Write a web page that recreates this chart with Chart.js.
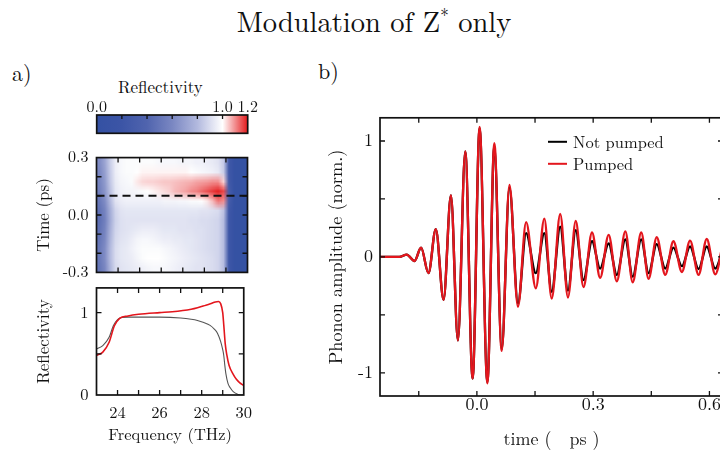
<!DOCTYPE html>
<html lang="en"><head><meta charset="utf-8">
<script src="https://cdn.jsdelivr.net/npm/chart.js@4.4.0/dist/chart.umd.min.js"></script>
<style>
html,body{margin:0;padding:0;background:#fff;width:720px;height:453px;overflow:hidden;position:relative;}
canvas{position:absolute;}
.t{position:absolute;font-family:"Latin Modern Roman","Liberation Serif",serif;color:#111;white-space:nowrap;line-height:1;}
</style></head><body>
<div class="t" style="left:0;width:748px;text-align:center;top:6px;font-size:28.5px;">Modulation of Z<span style="font-size:17px;position:relative;top:-11px;">*</span> only</div>
<div class="t" style="left:12px;top:61px;font-size:22px;">a)</div>
<div class="t" style="left:318px;top:59px;font-size:22px;">b)</div>
<div class="t" style="left:118px;top:78px;font-size:17px;">Reflectivity</div>
<canvas id="cbar" width="260" height="60" style="left:0;top:75px"></canvas>
<canvas id="heat" width="260" height="150" style="left:0;top:140px"></canvas>
<canvas id="low" width="260" height="183" style="left:0;top:270px"></canvas>
<canvas id="phon" width="425" height="353" style="left:300px;top:100px"></canvas>
<script>
// ---------------- DATA ----------------
// Panel b: phonon amplitude extrema (time in ps)
const phononTime = [-0.25,-0.2,-0.181,-0.161,-0.144,-0.125,-0.106,-0.086,-0.067,-0.049,-0.030,-0.011,0.007,0.027,0.045,0.064,0.084,0.106,0.127,0.152,0.174,0.193,0.215,0.235,0.255,0.275,0.297,0.318,0.34,0.361,0.383,0.402,0.424,0.443,0.464,0.486,0.507,0.529,0.55,0.572,0.593,0.615,0.636];
const phononPumped = [0,0,0.02,-0.035,0.08,-0.14,0.24,-0.37,0.53,-0.72,0.91,-1.05,1.12,-1.09,0.98,-0.81,0.62,-0.43,0.30,-0.27,0.33,-0.36,0.37,-0.35,0.31,-0.26,0.21,-0.18,0.19,-0.21,0.22,-0.22,0.21,-0.19,0.17,-0.155,0.135,-0.13,0.14,-0.155,0.155,-0.15,0.14];
const phononNotPumped = [0,0,0.02,-0.035,0.08,-0.14,0.24,-0.37,0.53,-0.72,0.91,-1.05,1.11,-1.08,0.96,-0.80,0.60,-0.40,0.205,-0.14,0.205,-0.30,0.26,-0.29,0.23,-0.20,0.135,-0.10,0.115,-0.155,0.15,-0.17,0.15,-0.14,0.11,-0.10,0.08,-0.08,0.09,-0.105,0.09,-0.10,0.08];
const seriesLabels = ['Not pumped','Pumped'];
const phononXLabels = [0.0, 0.3, 0.6];
const phononYLabels = [-1, 0, 1];

// Panel a (bottom): reflectivity spectra
const reflFreqNot = [23.0,23.3,23.6,23.8,24.0,24.2,24.5,25,26,27,27.5,27.8,28.1,28.4,28.6,28.75,28.9,29.0,29.05,29.1,29.15,29.25,29.35,29.5,29.7,29.85,30];
const reflNot = [0.557,0.6,0.7,0.84,0.915,0.94,0.945,0.945,0.945,0.935,0.92,0.905,0.88,0.845,0.8,0.75,0.65,0.55,0.48,0.36,0.26,0.14,0.09,0.04,0.01,0.0,0.0];
const reflFreqPump = [23.0,23.3,23.6,23.85,24.1,24.5,25.0,26.0,26.6,27.5,27.8,28.2,28.45,28.65,28.8,28.9,29.0,29.05,29.12,29.2,29.3,29.5,29.65,29.8,30];
const reflPump = [0.48,0.52,0.64,0.84,0.93,0.96,0.98,1.0,1.01,1.04,1.058,1.09,1.11,1.13,1.135,1.11,1.0,0.85,0.62,0.48,0.36,0.25,0.19,0.15,0.115];
const freqLabels = [24, 26, 28, 30];

// Panel a (top): time-resolved reflectivity map (cell centres)
const heatFreq = [23.125,23.375,23.625,23.875,24.125,24.375,24.625,24.875,25.125,25.375,25.625,25.875,26.125,26.375,26.625,26.875,27.125,27.375,27.625,27.875,28.125,28.375,28.625,28.875,29.125,29.375,29.625,29.875];
const heatTime = [0.275,0.225,0.175,0.125,0.075,0.025,-0.025,-0.075,-0.125,-0.175,-0.225,-0.275];
const heatRefl = [
 [0.62,0.72,0.86,0.95,0.98,0.99,0.99,0.99,0.99,0.99,0.99,0.98,0.98,0.98,0.98,0.97,0.97,0.97,0.96,0.96,0.95,0.94,0.92,0.85,0.24,0.04,0.03,0.03],
 [0.60,0.70,0.85,0.95,0.98,0.99,0.99,1.00,1.01,1.01,1.01,1.01,1.01,1.01,1.01,1.01,1.01,1.00,0.99,0.98,0.97,0.96,0.94,0.86,0.24,0.04,0.03,0.03],
 [0.58,0.68,0.84,0.94,0.97,0.98,0.99,1.02,1.035,1.04,1.04,1.045,1.05,1.05,1.055,1.06,1.065,1.07,1.08,1.085,1.09,1.10,1.10,1.04,0.26,0.04,0.03,0.03],
 [0.56,0.66,0.82,0.93,0.96,0.97,0.97,0.98,0.99,1.00,1.01,1.02,1.03,1.04,1.06,1.07,1.08,1.10,1.11,1.13,1.15,1.17,1.19,1.16,0.30,0.04,0.03,0.03],
 [0.52,0.62,0.80,0.92,0.95,0.96,0.96,0.96,0.96,0.96,0.96,0.96,0.97,0.97,0.97,0.98,0.98,0.99,0.99,1.00,1.02,1.06,1.12,1.10,0.30,0.04,0.03,0.03],
 [0.48,0.58,0.75,0.88,0.92,0.93,0.93,0.93,0.93,0.93,0.93,0.93,0.93,0.93,0.93,0.93,0.93,0.93,0.93,0.92,0.92,0.91,0.90,0.83,0.24,0.04,0.03,0.03],
 [0.46,0.56,0.74,0.87,0.91,0.92,0.92,0.92,0.92,0.92,0.92,0.92,0.92,0.92,0.92,0.92,0.92,0.91,0.91,0.90,0.90,0.89,0.88,0.81,0.22,0.04,0.03,0.03],
 [0.48,0.58,0.76,0.88,0.91,0.92,0.93,0.94,0.95,0.95,0.95,0.94,0.93,0.93,0.93,0.92,0.92,0.92,0.91,0.91,0.90,0.89,0.88,0.81,0.22,0.04,0.03,0.03],
 [0.50,0.60,0.78,0.89,0.92,0.93,0.95,0.97,0.98,0.98,0.97,0.96,0.95,0.95,0.94,0.94,0.93,0.93,0.92,0.91,0.90,0.89,0.88,0.81,0.22,0.04,0.03,0.03],
 [0.52,0.62,0.80,0.90,0.93,0.94,0.96,0.98,0.99,0.99,0.99,0.99,0.98,0.97,0.96,0.95,0.94,0.93,0.92,0.91,0.90,0.89,0.88,0.81,0.22,0.04,0.03,0.03],
 [0.52,0.62,0.80,0.90,0.93,0.94,0.95,0.97,0.99,1.00,1.00,1.00,0.99,0.98,0.97,0.96,0.95,0.94,0.93,0.92,0.91,0.90,0.88,0.81,0.22,0.04,0.03,0.03],
 [0.50,0.60,0.78,0.89,0.92,0.93,0.94,0.95,0.96,0.97,0.98,0.98,0.98,0.97,0.96,0.95,0.94,0.93,0.92,0.92,0.91,0.90,0.88,0.81,0.22,0.04,0.03,0.03]
];
const probeTime = 0.1;            // dashed line in the map
const timeLabels = [-0.3, 0.0, 0.3];
const cbarLabels = [0.0, 1.0, 1.2];

// ---------------- STYLE ----------------
const SERIF = "'Latin Modern Roman','Liberation Serif',serif";
const RED = '#e3161d';
const TXT = '#111';
const CMAP = [[0,[52,81,163]],[0.2,[60,85,166]],[0.4,[80,100,174]],[0.6,[122,135,194]],[0.8,[178,185,222]],[0.9,[217,220,239]],[1.0,[255,255,255]],[1.2,[228,26,28]]];
function cmap(v){
  if (v <= CMAP[0][0]) return CMAP[0][1];
  for (let i=1;i<CMAP.length;i++){
    if (v <= CMAP[i][0]){
      const [a,ca]=CMAP[i-1],[b,cb]=CMAP[i]; const f=(v-a)/(b-a);
      return ca.map((c,k)=>Math.round(c+(cb[k]-c)*f));
    }
  }
  return CMAP[CMAP.length-1][1];
}
const near = (v, list) => list.some(l => Math.abs(v-l) < 1e-6);

const frameTicks = {
  id:'frameTicks',
  afterDatasetsDraw(chart, args, o){
    const {ctx, chartArea:a} = chart;
    const xs = chart.scales.x, ys = chart.scales.y;
    const len = o.len || 5, sides = o.sides || 'tblr';
    ctx.save();
    ctx.strokeStyle = '#111'; ctx.lineWidth = 1.3;
    ctx.beginPath();
    if (xs && xs.ticks) xs.ticks.forEach(t => {
      const p = xs.getPixelForValue(t.value);
      if (p < a.left+1 || p > a.right-1) return;
      if (sides.includes('b')) { ctx.moveTo(p, a.bottom); ctx.lineTo(p, a.bottom-len); }
      if (sides.includes('t')) { ctx.moveTo(p, a.top); ctx.lineTo(p, a.top+len); }
    });
    if (ys && ys.ticks && (sides.includes('l')||sides.includes('r'))) ys.ticks.forEach(t => {
      const p = ys.getPixelForValue(t.value);
      if (p < a.top+1 || p > a.bottom-1) return;
      if (sides.includes('l')) { ctx.moveTo(a.left, p); ctx.lineTo(a.left+len, p); }
      if (sides.includes('r')) { ctx.moveTo(a.right, p); ctx.lineTo(a.right-len, p); }
    });
    ctx.stroke();
    ctx.lineWidth = 1.7;
    ctx.strokeRect(a.left, a.top, a.right-a.left, a.bottom-a.top);
    ctx.restore();
  }
};

const heatPlugin = {
  id:'heatmap',
  beforeDatasetsDraw(chart){
    const {ctx, scales:{x,y}} = chart;
    const nx = heatFreq.length, ny = heatTime.length;
    const off = document.createElement('canvas'); off.width = nx; off.height = ny;
    const octx = off.getContext('2d'); const img = octx.createImageData(nx, ny);
    for (let j=0;j<ny;j++) for (let i=0;i<nx;i++){
      const c = cmap(heatRefl[j][i]); const k = (j*nx+i)*4;
      img.data[k]=c[0]; img.data[k+1]=c[1]; img.data[k+2]=c[2]; img.data[k+3]=255;
    }
    octx.putImageData(img,0,0);
    const df = (heatFreq[nx-1]-heatFreq[0])/(nx-1), dt = (heatTime[0]-heatTime[ny-1])/(ny-1);
    const x0 = x.getPixelForValue(heatFreq[0]-df/2), x1 = x.getPixelForValue(heatFreq[nx-1]+df/2);
    const y0 = y.getPixelForValue(heatTime[0]+dt/2), y1 = y.getPixelForValue(heatTime[ny-1]-dt/2);
    ctx.save(); ctx.imageSmoothingEnabled = true;
    ctx.drawImage(off, x0, y0, x1-x0, y1-y0);
    ctx.restore();
  }
};

const cbarPlugin = {
  id:'cbar',
  beforeDatasetsDraw(chart){
    const {ctx, chartArea:a, scales:{x}} = chart;
    const g = ctx.createLinearGradient(x.getPixelForValue(x.min),0,x.getPixelForValue(x.max),0);
    CMAP.forEach(([v,c]) => g.addColorStop((v-x.min)/(x.max-x.min), `rgb(${c[0]},${c[1]},${c[2]})`));
    ctx.save(); ctx.fillStyle = g; ctx.fillRect(a.left,a.top,a.right-a.left,a.bottom-a.top); ctx.restore();
  }
};

const inLegend = {
  id:'inLegend',
  afterDatasetsDraw(chart, args, o){
    const {ctx, chartArea:a} = chart;
    ctx.save(); ctx.font = `${o.size}px ${SERIF}`; ctx.textBaseline = 'middle';
    o.items.forEach((it,i) => {
      const y = a.top + o.y + i*o.gap;
      ctx.strokeStyle = it.color; ctx.lineWidth = 2;
      ctx.beginPath(); ctx.moveTo(a.left+o.x, y); ctx.lineTo(a.left+o.x+o.len, y); ctx.stroke();
      ctx.fillStyle = TXT; ctx.fillText(it.text, a.left+o.x+o.len+6, y+1);
    });
    ctx.restore();
  }
};

const base = {responsive:false, animation:false, devicePixelRatio:1, events:[],
  plugins:{legend:{display:false}, tooltip:{enabled:false}}};
const font = s => ({family:SERIF, size:s});
const noGrid = {grid:{display:false, drawTicks:false}, border:{display:false}};

// ---- colour bar ----
new Chart(document.getElementById('cbar'), {
  type:'line', data:{datasets:[{data:[]}]},
  options:{...base, layout:{padding:{left:96.7, right:12.3, top:0, bottom:1.7}},
    plugins:{...base.plugins, frameTicks:{sides:'t', len:4}},
    scales:{
      x:{type:'linear', position:'top', min:0, max:1.2, ...noGrid,
         afterFit(s){ s.height = 40; },
         ticks:{stepSize:0.2, autoSkip:false, maxRotation:0, padding:-2, font:font(16), color:TXT,
           callback:v => near(v, cbarLabels) ? v.toFixed(1) : ''}},
      y:{display:false, min:0, max:1}
    }},
  plugins:[cbarPlugin, frameTicks]
});

// ---- time-resolved map ----
new Chart(document.getElementById('heat'), {
  type:'line',
  data:{datasets:[{data:[{x:heatFreq[0]-0.125,y:probeTime},{x:heatFreq[heatFreq.length-1]+0.125,y:probeTime}],
    borderColor:'#111', borderWidth:2, borderDash:[8,5], pointRadius:0}]},
  options:{...base, layout:{padding:{left:0, right:12.5, top:14, bottom:0}},
    plugins:{...base.plugins, frameTicks:{sides:'tblr', len:5}},
    scales:{
      x:{type:'linear', min:23, max:30, ...noGrid, afterFit(s){ s.height = 8.3; },
         ticks:{display:false, stepSize:1}},
      y:{min:-0.3, max:0.3, ...noGrid, afterFit(s){ s.width = 96.5; },
         ticks:{stepSize:0.1, autoSkip:false, padding:8, font:font(16), color:TXT,
           callback:v => near(v, timeLabels) ? (Math.abs(v)<1e-9?0:v).toFixed(1) : ''},
         title:{display:true, text:'Time (ps)', font:font(17), color:TXT, padding:{top:34}}}
    }},
  plugins:[heatPlugin, frameTicks]
});

// ---- reflectivity spectra ----
new Chart(document.getElementById('low'), {
  type:'line',
  data:{datasets:[
    {label:seriesLabels[1], data:reflFreqPump.map((f,i)=>({x:f,y:reflPump[i]})), borderColor:RED, borderWidth:1.6, pointRadius:0, cubicInterpolationMode:'monotone'},
    {label:seriesLabels[0], data:reflFreqNot.map((f,i)=>({x:f,y:reflNot[i]})), borderColor:'#555', borderWidth:1.1, pointRadius:0, cubicInterpolationMode:'monotone'}
  ]},
  options:{...base, layout:{padding:{left:0, right:12.5, top:11.7, bottom:0}},
    plugins:{...base.plugins, frameTicks:{sides:'tblr', len:5}},
    scales:{
      x:{type:'linear', min:23, max:30, ...noGrid, afterFit(s){ s.height = 58; },
         ticks:{stepSize:1, autoSkip:false, maxRotation:0, padding:8, font:font(16.5), color:TXT,
           callback:v => near(v, freqLabels) ? String(v) : ''},
         title:{display:true, text:'Frequency (THz)', font:font(16.5), color:TXT, padding:{top:0,bottom:8}}},
      y:{min:0, max:1.3, ...noGrid, afterFit(s){ s.width = 96.5; },
         ticks:{stepSize:0.5, includeBounds:false, autoSkip:false, padding:8, font:font(16.5), color:TXT,
           callback:v => Number.isInteger(v) ? String(v) : ''},
         title:{display:true, text:'Reflectivity', font:font(17), color:TXT, padding:{top:34}}}
    }},
  plugins:[frameTicks]
});

// ---- phonon amplitude ----
new Chart(document.getElementById('phon'), {
  type:'line',
  data:{datasets:[
    {label:seriesLabels[1], data:phononTime.map((t,i)=>({x:t,y:phononPumped[i]})), borderColor:RED, borderWidth:2.4, pointRadius:0, cubicInterpolationMode:'monotone', order:0},
    {label:seriesLabels[0], data:phononTime.map((t,i)=>({x:t,y:phononNotPumped[i]})), borderColor:'#000', borderWidth:2.4, pointRadius:0, cubicInterpolationMode:'monotone', order:1}
  ]},
  options:{...base, layout:{padding:{left:0, right:2, top:12, bottom:0}},
    plugins:{...base.plugins, frameTicks:{sides:'tblr', len:5},
      inLegend:{size:16.5, x:168, y:24, gap:22, len:19, items:[{text:seriesLabels[0], color:'#000'},{text:seriesLabels[1], color:RED}]}},
    scales:{
      x:{type:'linear', min:-0.25, max:0.635, ...noGrid, afterFit(s){ s.height = 57; },
         ticks:{stepSize:0.15, includeBounds:false, autoSkip:false, maxRotation:0, padding:-2, font:font(18), color:TXT,
           callback:v => near(v, phononXLabels) ? (Math.abs(v)<1e-9?0:v).toFixed(1) : ''},
         title:{display:true, text:'time (\u00a0\u00a0ps )', font:font(18), color:TXT, padding:{top:0,bottom:3}}},
      y:{min:-1.2, max:1.2, ...noGrid, afterFit(s){ s.width = 80; },
         ticks:{stepSize:0.5, includeBounds:false, autoSkip:false, padding:7, font:font(18), color:TXT,
           callback:v => near(v, phononYLabels) ? String(Math.round(v)) : ''},
         title:{display:true, text:'Phonon amplitude (norm.)', font:font(18.3), color:TXT, padding:{top:25}}}
    }},
  plugins:[frameTicks, inLegend]
});
</script>
</body></html>
